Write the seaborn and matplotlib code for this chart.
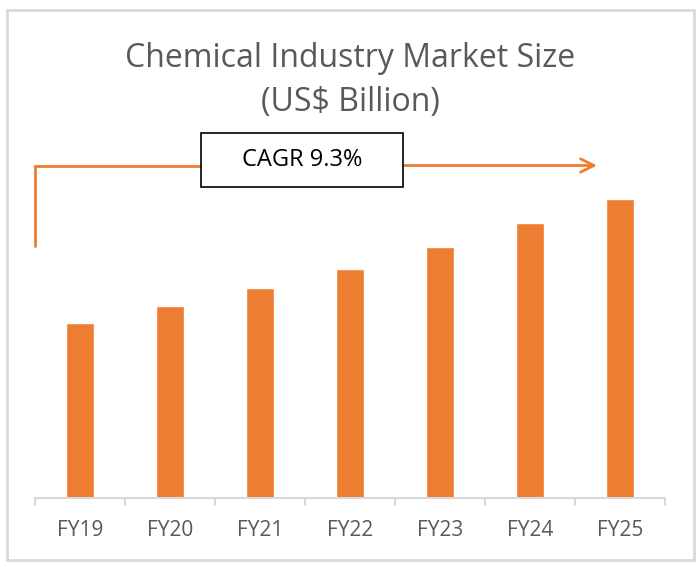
import matplotlib
matplotlib.use("Agg")
import matplotlib.pyplot as plt
import seaborn as sns
import pandas as pd
from matplotlib.patches import Rectangle

years = ["FY19", "FY20", "FY21", "FY22", "FY23", "FY24", "FY25"]
market_size = [178, 195, 213, 233, 255, 279, 304]
title_text = "Chemical Industry Market Size\n(US$ Billion)"
cagr_text = "CAGR 9.3%"

df = pd.DataFrame({"year": years, "size": market_size})

sns.set_theme(style="white")
plt.rcParams["font.family"] = ["Open Sans", "DejaVu Sans"]

W, H = 696, 567
fig = plt.figure(figsize=(W / 100, H / 100), dpi=100)
fig.patch.set_facecolor("white")

# outer border
fig.patches.append(Rectangle((6.5 / W, 1 - 560 / H), (694 - 6.5) / W, (560 - 10) / H,
                             transform=fig.transFigure, fill=False,
                             edgecolor="#d9d9d9", linewidth=2))

ax = fig.add_axes([35 / W, 1 - 497.5 / H, 630 / W, 342 / H])
orange = "#ED7D31"
sns.barplot(data=df, x="year", y="size", color=orange, saturation=1,
            width=0.31, ax=ax)
ax.set_xlim(-0.5, 6.5)
ax.set_xlabel("")
ax.set_ylabel("")
ax.set_yticks([])
for s in ["top", "right", "left"]:
    ax.spines[s].set_visible(False)
ax.spines["bottom"].set_color("#d9d9d9")
ax.spines["bottom"].set_linewidth(1.5)
ax.set_xticks(list(range(len(years))))
ax.set_xticklabels(years, color="#595959", fontsize=15)
ax.tick_params(axis="x", length=0, pad=16)
# boundary ticks between categories
for b in [i - 0.5 for i in range(len(years) + 1)]:
    ax.plot([b, b], [0, -8], color="#d9d9d9", lw=1.5, clip_on=False)
ax.set_ylim(0, 348)

# title
fig.text(350 / W, 1 - 80.5 / H, title_text, ha="center", va="center",
         fontsize=23, color="#595959", linespacing=1.42)

# CAGR arrow
y_line = 1 - 165.5 / H
xl = 34.5 / W
fig.lines.append(plt.Line2D([xl, xl], [1 - 246 / H, y_line], transform=fig.transFigure,
                            color=orange, lw=2))
fig.lines.append(plt.Line2D([xl, 201 / W], [y_line, y_line], transform=fig.transFigure,
                            color=orange, lw=2))
ax.annotate("", xy=(597 / W, y_line), xytext=(403 / W, y_line),
            xycoords="figure fraction", textcoords="figure fraction",
            arrowprops=dict(arrowstyle="->,head_length=0.8,head_width=0.4",
                            color=orange, lw=2, shrinkA=0, shrinkB=0))
fig.patches.append(Rectangle((201 / W, 1 - 187 / H), 202 / W, 54 / H,
                             transform=fig.transFigure, facecolor="white",
                             edgecolor="black", linewidth=1.2, zorder=5))
fig.text(302 / W, 1 - 160 / H, cagr_text, ha="center", va="center",
         fontsize=17, color="black", zorder=6)

fig.savefig("out.png", dpi=100)
